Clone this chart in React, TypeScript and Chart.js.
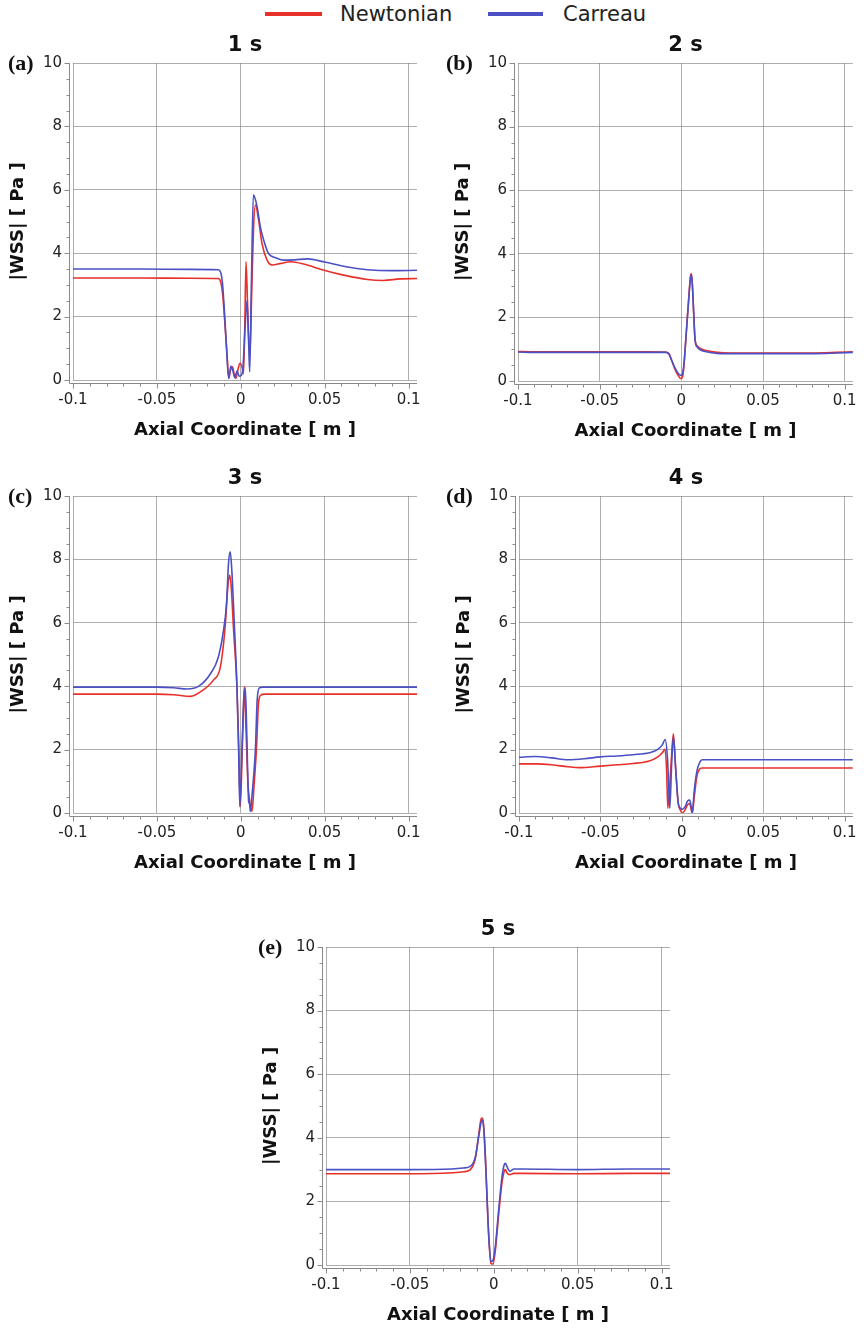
import React, { useEffect, useRef } from 'react';
import { Chart, registerables } from 'chart.js';

Chart.register(...registerables);

const FONT = '"DejaVu Sans", Verdana, sans-serif';
const RED = '#e8302b';
const BLUE = '#4b50c4';
const GRID = 'rgba(120,120,120,0.6)';
const AXIS = '#8a8a8a';

const SERIES_NAMES = ['Newtonian', 'Carreau'];
const PANEL_TITLES = ['1 s', '2 s', '3 s', '4 s', '5 s'];
const PANEL_LABELS = ['(a)', '(b)', '(c)', '(d)', '(e)'];
const X_TITLE = 'Axial Coordinate [ m ]';
const Y_TITLE = '|WSS| [ Pa ]';

// ---- Panel (a) 1 s ----
const aNewtX = [-0.1, -0.06, -0.03, -0.0135, -0.012, -0.0108, -0.0095, -0.0082, -0.0072, -0.0062, -0.005, -0.0038, -0.003, -0.0018, -0.0005, 0.0008, 0.0016, 0.0024, 0.0031, 0.0039, 0.0047, 0.0055, 0.0065, 0.0076, 0.0087, 0.0106, 0.0126, 0.0156, 0.0186, 0.024, 0.0296, 0.038, 0.049, 0.062, 0.0755, 0.085, 0.095, 0.105];
const aNewtY = [3.22, 3.22, 3.21, 3.2, 3.1, 2.7, 1.8, 0.8, 0.05, 0.3, 0.42, 0.15, 0.05, 0.3, 0.53, 0.4, 0.2, 1.8, 3.73, 2.6, 1.3, 0.9, 2.8, 4.8, 5.52, 5.05, 4.31, 3.79, 3.63, 3.68, 3.73, 3.65, 3.47, 3.3, 3.17, 3.14, 3.19, 3.2];
const aCarrX = [-0.1, -0.06, -0.03, -0.0135, -0.012, -0.011, -0.0098, -0.0085, -0.0072, -0.0059, -0.0048, -0.0036, -0.0022, -0.001, 0.0003, 0.0013, 0.0025, 0.0037, 0.0046, 0.0053, 0.0063, 0.0075, 0.0097, 0.0116, 0.0136, 0.0164, 0.0216, 0.0254, 0.032, 0.0397, 0.05, 0.062, 0.0755, 0.09, 0.105];
const aCarrY = [3.5, 3.5, 3.49, 3.48, 3.4, 3.1, 2.2, 1.0, 0.05, 0.44, 0.3, 0.08, 0.28, 0.12, 0.15, 0.4, 1.6, 2.5, 1.3, 0.26, 3.0, 5.84, 5.47, 4.84, 4.42, 4.0, 3.84, 3.78, 3.79, 3.82, 3.72, 3.58, 3.48, 3.45, 3.46];

// ---- Panel (b) 2 s ----
const bX = [-0.1, -0.09, -0.05, -0.02, -0.0095, -0.0075, -0.006, -0.004, -0.002, -0.0005, 0.0005, 0.0015, 0.003, 0.0045, 0.0056, 0.0062, 0.0068, 0.0074, 0.0084, 0.0098, 0.0113, 0.0153, 0.022, 0.03, 0.05, 0.08, 0.095, 0.105];
const bNewtY = [0.93, 0.92, 0.92, 0.92, 0.91, 0.85, 0.66, 0.38, 0.18, 0.08, 0.1, 0.42, 1.5, 2.6, 3.3, 3.38, 3.0, 2.34, 1.32, 1.1, 1.03, 0.96, 0.9, 0.88, 0.88, 0.88, 0.9, 0.92];
const bCarrY = [0.91, 0.9, 0.9, 0.9, 0.9, 0.84, 0.66, 0.42, 0.24, 0.18, 0.2, 0.5, 1.5, 2.55, 3.25, 3.33, 2.95, 2.3, 1.28, 1.06, 0.99, 0.92, 0.87, 0.86, 0.86, 0.86, 0.88, 0.9];

// ---- Panel (c) 3 s ----
const cNewtX = [-0.1, -0.05, -0.04, -0.03, -0.0232, -0.0162, -0.0122, -0.0093, -0.0078, -0.0067, -0.0058, -0.0043, -0.0023, -0.0012, -0.0003, 0.0008, 0.0015, 0.0021, 0.003, 0.0042, 0.0055, 0.0067, 0.0078, 0.0093, 0.0106, 0.012, 0.014, 0.05, 0.105];
const cNewtY = [3.75, 3.75, 3.73, 3.68, 3.85, 4.2, 4.6, 5.9, 7.1, 7.51, 7.2, 5.77, 3.98, 2.0, 0.2, 1.9, 3.2, 3.98, 2.8, 1.0, 0.3, 0.05, 0.8, 2.0, 3.5, 3.72, 3.75, 3.75, 3.75];
const cCarrX = [-0.1, -0.05, -0.04, -0.032, -0.025, -0.018, -0.0135, -0.0105, -0.0085, -0.0073, -0.0063, -0.0053, -0.0039, -0.0023, -0.0013, -0.0006, 0.0007, 0.0018, 0.0027, 0.0036, 0.0047, 0.0052, 0.0057, 0.0066, 0.0077, 0.0087, 0.0098, 0.0112, 0.013, 0.05, 0.105];
const cCarrY = [3.97, 3.97, 3.95, 3.91, 4.0, 4.4, 4.9, 5.7, 6.6, 7.9, 8.24, 7.6, 6.0, 4.0, 2.0, 0.2, 2.0, 3.6, 3.95, 2.4, 0.35, 0.3, 0.05, 0.5, 1.2, 2.0, 3.6, 3.95, 3.97, 3.97, 3.97];

// ---- Panel (d) 4 s ----
const dNewtX = [-0.1, -0.09, -0.08, -0.07, -0.063, -0.05, -0.04, -0.03, -0.02, -0.015, -0.012, -0.0104, -0.0094, -0.0086, -0.0068, -0.0052, -0.0038, -0.0022, -0.0008, 0.0002, 0.002, 0.0035, 0.0048, 0.0057, 0.0064, 0.0076, 0.0092, 0.0108, 0.0124, 0.02, 0.06, 0.105];
const dNewtY = [1.55, 1.55, 1.52, 1.46, 1.43, 1.48, 1.52, 1.56, 1.64, 1.76, 1.9, 2.02, 1.4, 0.15, 1.4, 2.5, 1.4, 0.3, 0.08, 0.0, 0.1, 0.26, 0.3, 0.12, 0.0, 0.5, 1.15, 1.38, 1.42, 1.42, 1.42, 1.42];
const dCarrX = [-0.1, -0.09, -0.08, -0.07, -0.06, -0.05, -0.04, -0.03, -0.02, -0.015, -0.012, -0.0102, -0.0088, -0.0074, -0.0063, -0.0052, -0.0038, -0.0022, -0.0008, 0.0005, 0.002, 0.0035, 0.0048, 0.0057, 0.0064, 0.0076, 0.0094, 0.0112, 0.0128, 0.02, 0.06, 0.105];
const dCarrY = [1.76, 1.78, 1.74, 1.68, 1.71, 1.77, 1.8, 1.84, 1.9, 2.0, 2.15, 2.32, 1.7, 0.15, 1.5, 2.4, 1.4, 0.3, 0.15, 0.12, 0.2, 0.38, 0.41, 0.2, 0.0, 0.7, 1.36, 1.62, 1.68, 1.68, 1.68, 1.68];

// ---- Panel (e) 5 s ----
const eX = [-0.1, -0.05, -0.025, -0.018, -0.014, -0.011, -0.009, -0.0075, -0.0068, -0.006, -0.005, -0.004, -0.003, -0.0017, -0.0005, 0.0009, 0.0029, 0.0049, 0.0062, 0.0069, 0.0078, 0.0095, 0.012, 0.016, 0.05, 0.08, 0.105];
const eNewtY = [2.87, 2.87, 2.9, 2.93, 3.0, 3.35, 4.1, 4.6, 4.62, 4.35, 3.4, 2.1, 0.9, 0.05, 0.03, 0.45, 1.6, 2.6, 2.95, 3.0, 2.9, 2.84, 2.88, 2.88, 2.87, 2.88, 2.88];
const eCarrY = [3.0, 3.0, 3.02, 3.05, 3.1, 3.4, 4.04, 4.5, 4.56, 4.3, 3.3, 2.05, 0.9, 0.1, 0.15, 0.58, 1.73, 2.78, 3.15, 3.2, 3.1, 2.95, 3.02, 3.02, 3.0, 3.02, 3.02];

const X_MIN = -0.1;
const X_MAX = 0.105;
const Y_MIN = 0;
const Y_MAX = 10;

const pts = (xs: number[], ys: number[]) => xs.map((x, i) => ({ x, y: ys[i] }));

const minorPlugin = {
  id: 'minorAxes',
  afterDraw(chart: any) {
    const { ctx, chartArea: a, scales } = chart;
    const xs = scales.x;
    const ys = scales.y;
    const ax = Math.round(a.left) - 3.5;
    const ay = Math.round(a.bottom) + 3.5;
    ctx.save();
    ctx.strokeStyle = AXIS;
    ctx.lineWidth = 1;
    ctx.beginPath();
    ctx.moveTo(ax, a.top);
    ctx.lineTo(ax, ay);
    ctx.lineTo(a.right, ay);
    for (let k = 0; k <= 20; k++) {
      const v = Y_MIN + k * 0.5;
      const p = Math.round(ys.getPixelForValue(v)) + 0.5;
      const len = k % 4 === 0 ? 5 : 3;
      ctx.moveTo(ax - len, p);
      ctx.lineTo(ax, p);
    }
    for (let k = 0; k <= 20; k++) {
      const v = -0.1 + k * 0.01;
      const p = Math.round(xs.getPixelForValue(v)) + 0.5;
      const len = k % 5 === 0 ? 5 : 3;
      ctx.moveTo(p, ay);
      ctx.lineTo(p, ay + len);
    }
    ctx.stroke();
    ctx.restore();
  },
};

type PanelCfg = {
  idx: number;
  newt: { x: number; y: number }[];
  carr: { x: number; y: number }[];
  left: number;
  top: number;
  width: number;
  plotH: number;
  rightPad: number;
  labelLeft: number;
};

const TOP_SPACE = 44;
const X_AXIS_H = 62;
const BOTTOM_PAD = 4;

function Panel({ cfg }: { cfg: PanelCfg }) {
  const ref = useRef<HTMLCanvasElement | null>(null);
  const height = TOP_SPACE + cfg.plotH + X_AXIS_H + BOTTOM_PAD;
  useEffect(() => {
    if (!ref.current) return;
    const tickFont = { family: FONT, size: 15 };
    const titleFont = { family: FONT, size: 18, weight: 'bold' as const };
    const chart = new Chart(ref.current, {
      type: 'line',
      data: {
        datasets: [
          {
            label: SERIES_NAMES[1],
            data: cfg.carr,
            borderColor: BLUE,
            backgroundColor: BLUE,
            borderWidth: 1.6,
            pointRadius: 0,
            cubicInterpolationMode: 'monotone',
            fill: false,
          },
          {
            label: SERIES_NAMES[0],
            data: cfg.newt,
            borderColor: RED,
            backgroundColor: RED,
            borderWidth: 1.6,
            pointRadius: 0,
            cubicInterpolationMode: 'monotone',
            fill: false,
          },
        ],
      },
      options: {
        animation: false,
        responsive: false,
        maintainAspectRatio: false,
        events: [],
        layout: { padding: { left: 0, right: cfg.rightPad, top: 0, bottom: BOTTOM_PAD } },
        plugins: {
          legend: { display: false },
          tooltip: { enabled: false },
          title: {
            display: true,
            text: PANEL_TITLES[cfg.idx],
            fullSize: false,
            color: '#111',
            font: { family: FONT, size: 21, weight: 'bold' },
            padding: { top: 14.4, bottom: 4.4 },
          },
        },
        scales: {
          x: {
            type: 'linear',
            min: X_MIN,
            max: X_MAX,
            afterFit: (s: any) => {
              s.height = X_AXIS_H;
            },
            border: { display: false },
            grid: { color: GRID, lineWidth: 1, drawTicks: false },
            ticks: {
              stepSize: 0.05,
              includeBounds: false,
              padding: 11,
              color: '#222',
              font: tickFont,
              maxRotation: 0,
              autoSkip: false,
              callback: (v: any) => String(+Number(v).toFixed(2)),
            },
            title: {
              display: true,
              text: X_TITLE,
              color: '#111',
              font: titleFont,
              padding: { top: 0, bottom: 1.2 },
            },
          },
          y: {
            type: 'linear',
            min: Y_MIN,
            max: Y_MAX,
            afterFit: (s: any) => {
              s.width = 73;
            },
            border: { display: false },
            grid: { color: GRID, lineWidth: 1, drawTicks: false },
            ticks: {
              stepSize: 2,
              padding: 11,
              color: '#222',
              font: tickFont,
              callback: (v: any) => String(v),
            },
            title: {
              display: true,
              text: Y_TITLE,
              color: '#111',
              font: titleFont,
              padding: { top: 8, bottom: 0 },
            },
          },
        },
      },
      plugins: [minorPlugin],
    });
    return () => chart.destroy();
  }, []);
  return (
    <>
      <canvas
        ref={ref}
        width={cfg.width}
        height={height}
        style={{ position: 'absolute', left: cfg.left, top: cfg.top, width: cfg.width, height }}
      />
      <div
        style={{
          position: 'absolute',
          left: cfg.labelLeft,
          top: cfg.top + TOP_SPACE - 13,
          lineHeight: '26px',
          fontFamily: '"Liberation Serif", "Times New Roman", serif',
          fontWeight: 'bold',
          fontSize: 22,
          color: '#111',
        }}
      >
        {PANEL_LABELS[cfg.idx]}
      </div>
    </>
  );
}

const panels: PanelCfg[] = [
  { idx: 0, newt: pts(aNewtX, aNewtY), carr: pts(aCarrX, aCarrY), left: 0, top: 19, width: 434, plotH: 317, rightPad: 17, labelLeft: 8 },
  { idx: 1, newt: pts(bX, bNewtY), carr: pts(bX, bCarrY), left: 445, top: 19, width: 423, plotH: 318, rightPad: 8, labelLeft: 446 },
  { idx: 2, newt: pts(cNewtX, cNewtY), carr: pts(cCarrX, cCarrY), left: 0, top: 452, width: 434, plotH: 317, rightPad: 17, labelLeft: 8 },
  { idx: 3, newt: pts(dNewtX, dNewtY), carr: pts(dCarrX, dCarrY), left: 446, top: 452, width: 422, plotH: 317, rightPad: 7, labelLeft: 446 },
  { idx: 4, newt: pts(eX, eNewtY), carr: pts(eX, eCarrY), left: 253, top: 903, width: 434, plotH: 318, rightPad: 17, labelLeft: 258 },
];

export default function App() {
  const legendText: React.CSSProperties = {
    position: 'absolute',
    top: 2,
    lineHeight: '24px',
    fontFamily: FONT,
    fontSize: 21,
    color: '#222',
    whiteSpace: 'nowrap',
  };
  return (
    <div
      style={{
        position: 'absolute',
        left: 0,
        top: 0,
        width: 868,
        height: 1328,
        overflow: 'hidden',
        background: '#fff',
      }}
    >
      <div style={{ position: 'absolute', left: 265, top: 12, width: 57, height: 4, background: RED }} />
      <div style={{ ...legendText, left: 340 }}>{SERIES_NAMES[0]}</div>
      <div style={{ position: 'absolute', left: 488, top: 12, width: 55, height: 4, background: BLUE }} />
      <div style={{ ...legendText, left: 563 }}>{SERIES_NAMES[1]}</div>
      {panels.map((p) => (
        <Panel key={p.idx} cfg={p} />
      ))}
    </div>
  );
}
